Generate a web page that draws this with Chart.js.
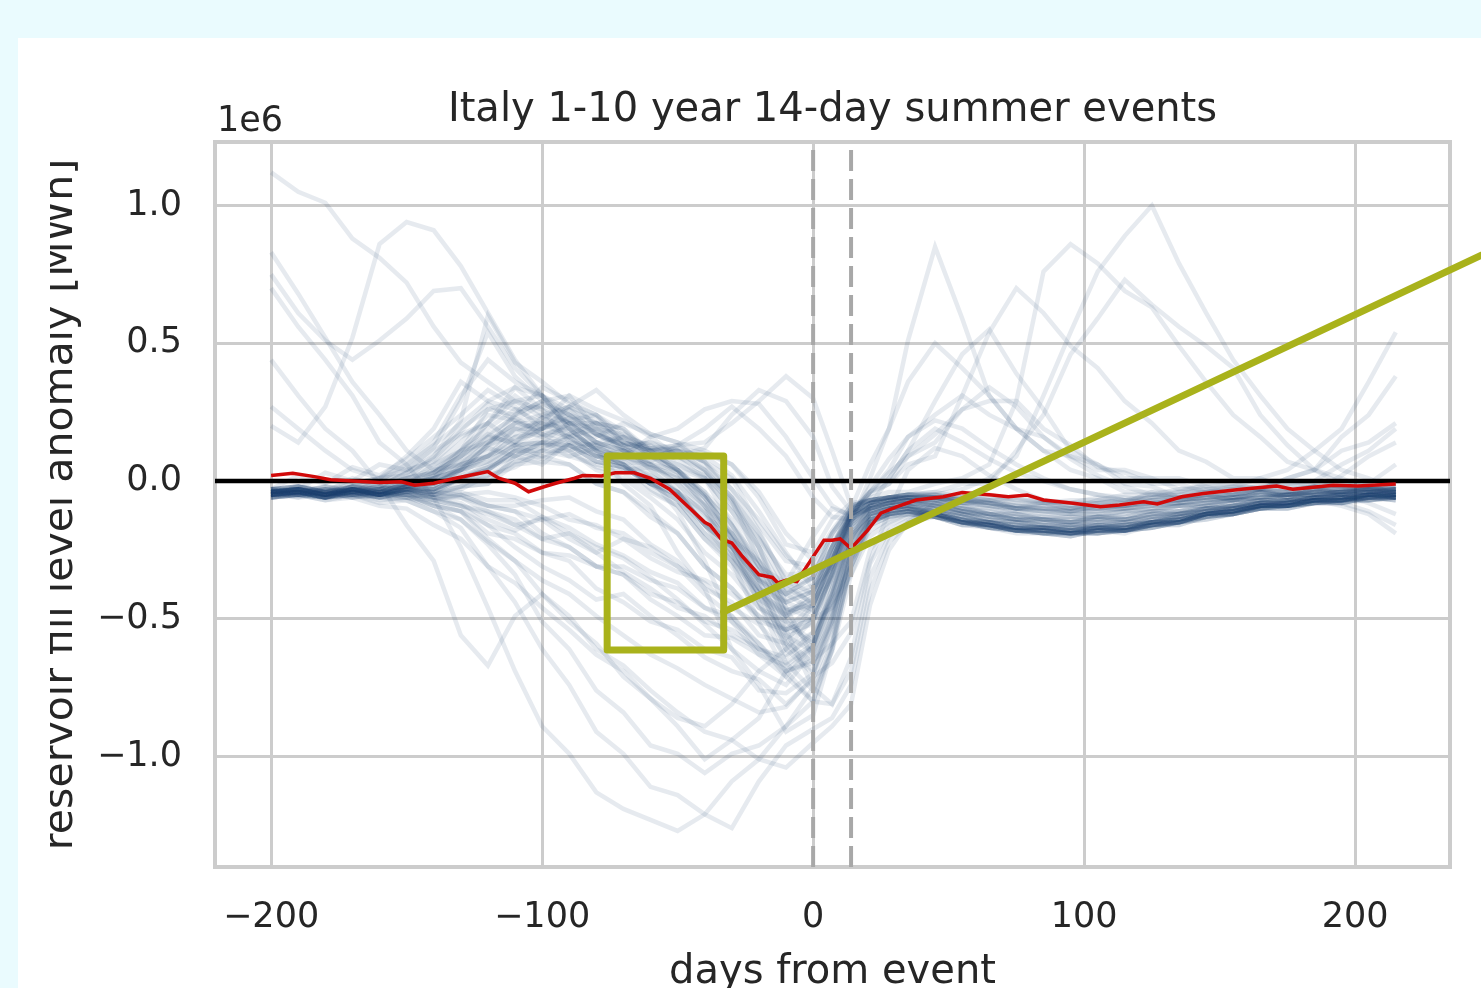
<!DOCTYPE html>
<html>
<head>
<meta charset="utf-8">
<title>Italy 1-10 year 14-day summer events</title>
<script src="https://cdn.jsdelivr.net/npm/chart.js@4.4.0/dist/chart.umd.min.js"></script>
<style>
  html, body { margin: 0; padding: 0; background: #eafbfe; }
  body { width: 1481px; height: 988px; overflow: hidden; position: relative; }
  #panel { position: absolute; left: 18px; top: 38px; width: 1463px; height: 950px; background: #ffffff; }
  canvas { display: block; }
</style>
</head>
<body>
<div id="panel"><canvas id="chart" width="1463" height="950"></canvas></div>
<script>
// texts
const titleText = "Italy 1-10 year 14-day summer events";
const xLabel = "days from event";
const yLabel = "reservoir fill level anomaly [MWh]";
const yOffsetText = "1e6";

// axis limits and ticks (y values in units of 1e6 MWh)
const xMin = -220.7, xMax = 235.0;
const yMin = -1.401, yMax = 1.2305;
const xTicks = [-200, -100, 0, 100, 200];
const yTicks = [-1.0, -0.5, 0.0, 0.5, 1.0];

// event window (dashed lines) and the highlighted box + connector
const eventWindow = [0, 14];
const boxDays = [-76, -33];
const boxValues = [-0.613, 0.091];
const connectorDays = [-33, 260];
const connectorValues = [-0.475, 0.882];

// days relative to the event for every event series
const days = [-200,-190,-180,-170,-160,-150,-140,-130,-120,-110,-100,-90,-80,-70,-60,-50,-40,-30,-20,-10,
  0,7,14,21,28,35,45,55,65,75,85,95,105,115,125,135,145,155,165,175,185,195,205,215];

// single events: 20 values before the event, then 24 from day 0 on
const e01 = [-0.03,-0.05,-0.02,-0.04,0.00,0.06,0.14,0.31,0.44,0.36,0.31,0.22,0.24,0.16,0.13,0.06,0.01,-0.16,-0.29,-0.46, -0.50,-0.33,-0.14,-0.09,-0.07,-0.06,-0.07,-0.06,-0.08,-0.10,-0.09,-0.11,-0.09,-0.09,-0.07,-0.06,-0.05,-0.05,-0.03,-0.04,-0.02,-0.03,-0.03,-0.02];
const e02 = [-0.05,-0.04,-0.06,-0.03,-0.02,0.03,0.09,0.22,0.60,0.43,0.36,0.28,0.24,0.14,0.11,0.04,-0.06,-0.21,-0.38,-0.61, -0.70,-0.53,-0.26,-0.13,-0.11,-0.10,-0.13,-0.15,-0.15,-0.17,-0.18,-0.19,-0.18,-0.18,-0.16,-0.15,-0.12,-0.11,-0.09,-0.09,-0.07,-0.07,-0.05,-0.06];
const e03 = [-0.04,-0.02,-0.04,-0.01,0.01,0.09,0.19,0.36,0.29,0.26,0.27,0.21,0.14,0.11,0.12,0.09,0.04,-0.06,-0.19,-0.36, -0.41,-0.29,-0.11,-0.08,-0.06,-0.06,-0.08,-0.09,-0.12,-0.12,-0.14,-0.14,-0.13,-0.13,-0.11,-0.11,-0.09,-0.08,-0.07,-0.07,-0.05,-0.04,-0.01,0.06];
const e04 = [-0.06,-0.04,-0.06,-0.03,-0.04,-0.01,0.06,0.11,0.26,0.29,0.23,0.17,0.21,0.14,0.11,0.04,0.01,-0.11,-0.24,-0.49, -0.61,-0.44,-0.21,-0.14,-0.13,-0.11,-0.13,-0.16,-0.16,-0.18,-0.19,-0.20,-0.18,-0.19,-0.16,-0.16,-0.13,-0.12,-0.10,-0.10,-0.08,-0.08,-0.06,-0.06];
const e05 = [-0.03,-0.02,-0.03,-0.01,0.01,0.04,0.11,0.17,0.21,0.14,0.19,0.26,0.21,0.19,0.11,0.11,0.07,0.01,-0.16,-0.29, -0.31,-0.19,-0.09,-0.07,-0.06,-0.05,-0.04,-0.06,-0.05,-0.07,-0.07,-0.08,-0.06,-0.07,-0.05,-0.05,-0.03,-0.03,-0.02,-0.01,0.00,0.06,0.11,0.19];
const e06 = [-0.05,-0.03,-0.05,-0.02,-0.01,0.04,0.07,0.16,0.21,0.29,0.31,0.26,0.17,0.13,0.09,0.11,0.04,-0.06,-0.24,-0.46, -0.64,-0.51,-0.21,-0.12,-0.10,-0.09,-0.11,-0.12,-0.15,-0.15,-0.17,-0.16,-0.17,-0.15,-0.15,-0.12,-0.11,-0.09,-0.09,-0.07,-0.07,-0.05,-0.05,-0.03];
const e07 = [-0.04,-0.03,-0.04,-0.02,-0.02,0.01,0.04,0.11,0.14,0.21,0.24,0.21,0.14,0.11,0.07,0.13,0.14,0.21,0.29,0.38, 0.30,0.11,-0.09,-0.07,-0.06,-0.05,-0.06,-0.05,-0.07,-0.06,-0.08,-0.07,-0.07,-0.05,-0.05,-0.03,-0.03,-0.02,-0.02,-0.01,-0.01,-0.02,-0.03,-0.02];
const e08 = [-0.06,-0.05,-0.06,-0.04,-0.04,-0.01,0.03,0.09,0.21,0.34,0.26,0.14,0.13,0.09,0.16,0.19,0.26,0.29,0.28,0.16, 0.01,-0.09,-0.13,-0.10,-0.08,-0.08,-0.09,-0.10,-0.12,-0.12,-0.14,-0.13,-0.13,-0.11,-0.11,-0.09,-0.09,-0.07,-0.07,-0.05,-0.05,-0.04,-0.04,-0.03];
const e09 = [-0.04,-0.03,-0.05,-0.02,-0.03,-0.01,0.01,0.04,0.13,0.17,0.23,0.27,0.23,0.14,0.11,0.04,-0.06,-0.19,-0.36,-0.54, -0.75,-0.59,-0.31,-0.15,-0.12,-0.11,-0.12,-0.14,-0.16,-0.17,-0.18,-0.19,-0.17,-0.18,-0.15,-0.15,-0.12,-0.12,-0.09,-0.09,-0.07,-0.08,-0.06,-0.07];
const e10 = [-0.05,-0.04,-0.06,-0.03,-0.05,-0.02,0.01,0.04,0.09,0.14,0.21,0.17,0.13,0.07,0.06,-0.01,-0.09,-0.26,-0.44,-0.61, -0.55,-0.41,-0.17,-0.10,-0.08,-0.07,-0.07,-0.10,-0.10,-0.12,-0.13,-0.13,-0.14,-0.12,-0.11,-0.09,-0.09,-0.07,-0.07,-0.05,-0.05,-0.04,-0.04,-0.03];
const e11 = [0.20,0.14,0.27,0.52,0.86,0.94,0.91,0.78,0.61,0.44,0.31,0.19,0.11,0.04,0.01,-0.11,-0.29,-0.51,-0.59,-0.71, -0.60,-0.41,-0.19,-0.12,-0.10,-0.09,-0.12,-0.14,-0.17,-0.17,-0.19,-0.18,-0.19,-0.17,-0.16,-0.14,-0.13,-0.10,-0.10,-0.08,-0.07,-0.06,-0.07,-0.05];
const e12 = [1.12,1.05,1.01,0.88,0.81,0.72,0.56,0.43,0.36,0.29,0.26,0.21,0.19,0.11,0.09,0.04,-0.04,-0.21,-0.29,-0.41, -0.35,-0.24,-0.12,-0.08,-0.06,-0.05,-0.05,-0.07,-0.06,-0.08,-0.08,-0.09,-0.08,-0.07,-0.06,-0.04,-0.04,-0.03,-0.03,-0.02,-0.01,-0.02,-0.03,-0.02];
const e13 = [0.83,0.68,0.52,0.36,0.24,0.11,0.04,0.06,0.09,0.16,0.19,0.23,0.17,0.13,0.04,-0.04,-0.16,-0.29,-0.51,-0.69, -0.80,-0.61,-0.29,-0.15,-0.12,-0.10,-0.12,-0.15,-0.16,-0.18,-0.17,-0.19,-0.17,-0.18,-0.15,-0.15,-0.12,-0.11,-0.09,-0.09,-0.07,-0.09,-0.12,-0.19];
const e14 = [0.75,0.61,0.51,0.44,0.51,0.59,0.69,0.70,0.56,0.41,0.31,0.19,0.11,-0.01,-0.09,-0.26,-0.39,-0.61,-0.74,-0.91, -0.85,-0.61,-0.29,-0.18,-0.14,-0.12,-0.13,-0.15,-0.17,-0.18,-0.19,-0.20,-0.18,-0.18,-0.16,-0.15,-0.12,-0.11,-0.09,-0.09,-0.07,-0.07,-0.05,-0.06];
const e15 = [0.44,0.31,0.19,0.11,-0.01,-0.16,-0.29,-0.56,-0.67,-0.49,-0.41,-0.51,-0.59,-0.71,-0.79,-0.86,-0.89,-0.81,-0.69,-0.61, -0.50,-0.46,-0.34,-0.20,-0.15,-0.12,-0.12,-0.15,-0.16,-0.18,-0.18,-0.19,-0.18,-0.17,-0.15,-0.15,-0.12,-0.11,-0.09,-0.09,-0.07,-0.07,-0.05,-0.06];
const e16 = [0.70,0.56,0.44,0.31,0.14,0.06,-0.06,-0.24,-0.46,-0.69,-0.89,-0.99,-1.13,-1.19,-1.23,-1.27,-1.21,-1.09,-1.01,-0.89, -0.80,-0.81,-0.69,-0.35,-0.20,-0.15,-0.13,-0.16,-0.17,-0.19,-0.19,-0.20,-0.18,-0.18,-0.16,-0.15,-0.12,-0.12,-0.09,-0.09,-0.07,-0.07,-0.06,-0.06];
const e17 = [-0.04,-0.03,-0.05,-0.04,-0.06,-0.07,-0.11,-0.17,-0.31,-0.44,-0.61,-0.74,-0.91,-0.99,-1.11,-1.14,-1.21,-1.26,-1.09,-0.96, -0.90,-0.86,-0.74,-0.40,-0.22,-0.16,-0.12,-0.15,-0.16,-0.18,-0.18,-0.19,-0.17,-0.18,-0.16,-0.15,-0.12,-0.11,-0.09,-0.09,-0.07,-0.07,-0.05,-0.06];
const e18 = [-0.05,-0.04,-0.06,-0.05,-0.08,-0.07,-0.11,-0.14,-0.23,-0.34,-0.51,-0.61,-0.76,-0.84,-0.96,-0.99,-1.06,-0.99,-0.96,-0.89, -0.75,-0.81,-0.64,-0.30,-0.18,-0.14,-0.11,-0.14,-0.15,-0.17,-0.17,-0.18,-0.16,-0.17,-0.14,-0.14,-0.11,-0.11,-0.08,-0.08,-0.06,-0.07,-0.05,-0.05];
const e19 = [-0.03,-0.02,-0.04,-0.03,-0.05,-0.05,-0.09,-0.11,-0.21,-0.29,-0.41,-0.49,-0.61,-0.67,-0.76,-0.84,-0.91,-0.94,-1.01,-1.04, -0.95,-0.89,-0.81,-0.45,-0.25,-0.15,-0.08,-0.11,-0.12,-0.14,-0.14,-0.15,-0.13,-0.14,-0.12,-0.12,-0.10,-0.10,-0.08,-0.08,-0.06,-0.06,-0.05,-0.05];
const e20 = [-0.06,-0.05,-0.07,-0.06,-0.09,-0.10,-0.16,-0.21,-0.31,-0.37,-0.46,-0.54,-0.63,-0.69,-0.79,-0.89,-1.01,-0.94,-0.86,-0.69, -0.65,-0.59,-0.51,-0.25,-0.16,-0.13,-0.12,-0.15,-0.16,-0.18,-0.18,-0.19,-0.18,-0.18,-0.16,-0.15,-0.13,-0.12,-0.10,-0.10,-0.08,-0.08,-0.06,-0.07];
const e21 = [-0.04,-0.03,-0.05,-0.03,-0.05,-0.03,-0.06,-0.06,-0.11,-0.14,-0.21,-0.24,-0.31,-0.34,-0.41,-0.44,-0.51,-0.54,-0.61,-0.64, -0.55,-0.44,-0.31,-0.15,-0.12,-0.11,-0.12,-0.15,-0.15,-0.17,-0.17,-0.18,-0.17,-0.17,-0.15,-0.14,-0.12,-0.11,-0.09,-0.09,-0.07,-0.07,-0.05,-0.06];
const e22 = [-0.03,-0.02,-0.04,-0.03,-0.05,-0.03,-0.05,-0.04,-0.07,-0.07,-0.13,-0.17,-0.23,-0.27,-0.33,-0.37,-0.46,-0.49,-0.59,-0.69, -0.60,-0.34,-0.15,-0.10,-0.08,-0.07,-0.07,-0.10,-0.11,-0.13,-0.13,-0.14,-0.13,-0.13,-0.11,-0.11,-0.09,-0.09,-0.07,-0.07,-0.05,-0.06,-0.04,-0.05];
const e23 = [-0.05,-0.04,-0.06,-0.04,-0.06,-0.04,-0.07,-0.05,-0.09,-0.09,-0.07,-0.06,-0.11,-0.14,-0.23,-0.29,-0.39,-0.44,-0.56,-0.59, -0.45,-0.29,-0.12,-0.10,-0.09,-0.08,-0.08,-0.11,-0.12,-0.14,-0.14,-0.15,-0.13,-0.14,-0.12,-0.12,-0.10,-0.10,-0.08,-0.08,-0.06,-0.06,-0.05,-0.05];
const e24 = [-0.04,-0.03,-0.05,-0.03,-0.05,-0.03,-0.05,-0.02,-0.01,0.06,0.07,0.06,-0.01,-0.04,-0.11,-0.19,-0.31,-0.39,-0.49,-0.54, -0.50,-0.29,-0.13,-0.10,-0.08,-0.07,-0.06,-0.08,-0.08,-0.10,-0.10,-0.11,-0.09,-0.09,-0.07,-0.07,-0.05,-0.05,-0.03,-0.04,-0.02,-0.03,-0.02,-0.04];
const e25 = [-0.05,-0.04,-0.05,-0.03,-0.05,-0.04,-0.07,-0.09,-0.16,-0.19,-0.26,-0.29,-0.39,-0.44,-0.51,-0.54,-0.61,-0.64,-0.76,-0.77, -0.70,-0.49,-0.28,-0.15,-0.12,-0.11,-0.13,-0.16,-0.16,-0.18,-0.18,-0.19,-0.18,-0.18,-0.16,-0.16,-0.13,-0.12,-0.10,-0.10,-0.08,-0.08,-0.06,-0.07];
const e26 = [-0.03,-0.02,-0.04,-0.02,-0.04,-0.02,-0.03,0.01,0.02,0.07,0.09,0.13,0.09,0.06,-0.01,-0.04,-0.16,-0.24,-0.36,-0.41, -0.35,-0.19,-0.10,-0.07,-0.06,-0.05,-0.05,-0.07,-0.07,-0.09,-0.08,-0.10,-0.08,-0.08,-0.06,-0.06,-0.04,-0.05,-0.03,-0.04,-0.02,-0.03,-0.02,-0.03];
const e27 = [-0.06,-0.05,-0.06,-0.04,-0.06,-0.04,-0.06,-0.05,-0.09,-0.11,-0.19,-0.24,-0.31,-0.31,-0.36,-0.39,-0.46,-0.51,-0.63,-0.71, -0.80,-0.59,-0.25,-0.14,-0.11,-0.10,-0.11,-0.14,-0.15,-0.17,-0.17,-0.18,-0.16,-0.17,-0.15,-0.14,-0.12,-0.11,-0.09,-0.09,-0.07,-0.08,-0.11,-0.16];
const e28 = [-0.04,-0.03,-0.05,-0.03,-0.05,-0.03,-0.04,0.00,0.01,0.07,0.11,0.16,0.11,0.09,0.02,-0.04,-0.13,-0.19,-0.31,-0.37, -0.20,-0.10,-0.12,-0.09,-0.07,-0.06,-0.06,-0.08,-0.08,-0.10,-0.10,-0.11,-0.10,-0.10,-0.08,-0.08,-0.06,-0.06,-0.04,-0.05,-0.03,-0.04,-0.03,-0.04];
const e29 = [-0.05,-0.04,-0.06,-0.04,-0.05,-0.02,-0.03,0.03,0.09,0.19,0.19,0.16,0.09,0.06,-0.01,-0.07,-0.16,-0.24,-0.39,-0.49, -0.42,-0.24,-0.12,-0.10,-0.09,-0.08,-0.09,-0.12,-0.12,-0.14,-0.14,-0.16,-0.14,-0.15,-0.13,-0.13,-0.10,-0.10,-0.08,-0.08,-0.06,-0.06,-0.05,-0.05];
const e30 = [-0.04,-0.03,-0.05,-0.04,-0.06,-0.05,-0.09,-0.11,-0.19,-0.21,-0.26,-0.27,-0.31,-0.34,-0.43,-0.49,-0.56,-0.57,-0.63,-0.67, -0.60,-0.39,-0.20,-0.12,-0.10,-0.09,-0.12,-0.15,-0.16,-0.18,-0.18,-0.19,-0.18,-0.18,-0.16,-0.15,-0.12,-0.12,-0.09,-0.09,-0.07,-0.07,-0.05,-0.06];
const e31 = [-0.04,-0.03,-0.05,-0.03,-0.05,-0.02,-0.01,0.06,0.09,0.13,0.09,0.06,-0.01,-0.04,-0.13,-0.19,-0.31,-0.39,-0.51,-0.54, -0.45,-0.29,-0.15,0.01,0.19,0.51,0.85,0.59,0.31,0.19,0.16,0.09,0.06,0.01,0.01,-0.03,-0.02,-0.05,-0.03,-0.06,-0.04,-0.05,-0.03,-0.06];
const e32 = [-0.05,-0.04,-0.06,-0.03,-0.05,-0.03,-0.04,0.01,0.04,0.11,0.14,0.11,0.04,0.01,-0.06,-0.14,-0.26,-0.34,-0.46,-0.51, -0.50,-0.34,-0.12,-0.08,-0.06,-0.05,-0.05,-0.03,0.01,0.09,0.31,0.54,0.76,0.89,1.00,0.79,0.61,0.44,0.31,0.19,0.11,0.04,0.01,-0.03];
const e33 = [-0.03,-0.02,-0.04,-0.02,-0.03,0.01,0.03,0.11,0.17,0.23,0.17,0.13,0.07,0.05,-0.01,-0.07,-0.19,-0.29,-0.43,-0.49, -0.40,-0.24,-0.10,-0.06,-0.04,-0.04,-0.01,0.01,0.06,0.29,0.76,0.86,0.79,0.69,0.63,0.49,0.36,0.24,0.16,0.07,0.04,-0.01,-0.01,-0.05];
const e34 = [-0.05,-0.04,-0.05,-0.03,-0.04,-0.01,0.01,0.09,0.14,0.21,0.21,0.19,0.11,0.06,-0.03,-0.09,-0.21,-0.31,-0.46,-0.54, -0.50,-0.34,-0.15,-0.04,-0.01,0.06,0.09,0.31,0.54,0.70,0.61,0.49,0.41,0.29,0.21,0.11,0.07,0.01,0.01,-0.03,-0.02,-0.05,-0.04,-0.06];
const e35 = [-0.04,-0.03,-0.05,-0.02,-0.04,-0.01,-0.01,0.04,0.07,0.13,0.14,0.13,0.07,0.05,-0.01,-0.05,-0.16,-0.24,-0.36,-0.44, -0.40,-0.27,-0.12,-0.08,-0.06,-0.05,-0.04,-0.01,-0.01,0.11,0.24,0.46,0.59,0.73,0.64,0.56,0.49,0.41,0.24,0.13,0.04,0.01,-0.03,-0.04];
const e36 = [-0.04,-0.03,-0.05,-0.03,-0.05,-0.03,-0.05,-0.02,-0.01,0.09,0.14,0.21,0.21,0.19,0.09,0.03,-0.09,-0.19,-0.33,-0.39, -0.35,-0.19,-0.10,-0.07,-0.06,-0.05,-0.06,-0.08,-0.07,-0.10,-0.08,-0.10,-0.07,-0.08,-0.04,-0.04,-0.01,-0.02,0.01,0.04,0.11,0.19,0.36,0.54];
const e37 = [-0.05,-0.04,-0.06,-0.04,-0.05,-0.03,-0.04,0.01,0.04,0.11,0.11,0.11,0.05,0.03,-0.04,-0.09,-0.21,-0.29,-0.41,-0.47, -0.45,-0.29,-0.12,-0.04,0.04,0.16,0.24,0.31,0.24,0.19,0.11,0.09,0.04,0.04,0.01,0.01,-0.02,-0.01,-0.03,0.01,0.04,0.16,0.24,0.38];
const e38 = [-0.04,-0.03,-0.05,-0.03,-0.04,-0.01,-0.01,0.05,0.09,0.16,0.17,0.16,0.09,0.06,-0.01,-0.07,-0.19,-0.27,-0.39,-0.44, -0.40,-0.24,-0.10,0.06,0.19,0.36,0.50,0.41,0.31,0.19,0.11,0.04,0.01,-0.04,-0.04,-0.07,-0.05,-0.07,-0.04,-0.06,-0.03,-0.05,-0.02,-0.04];
const e39 = [-0.05,-0.04,-0.06,-0.03,-0.05,-0.02,-0.02,0.04,0.07,0.13,0.14,0.15,0.09,0.07,0.01,-0.04,-0.16,-0.27,-0.41,-0.49, -0.45,-0.29,-0.12,-0.04,0.01,0.11,0.29,0.46,0.55,0.39,0.26,0.11,0.06,-0.01,-0.02,-0.06,-0.05,-0.07,-0.04,-0.06,-0.03,-0.05,-0.03,-0.05];
const e40 = [-0.04,-0.03,-0.05,-0.03,-0.05,-0.02,-0.03,0.01,0.04,0.11,0.13,0.13,0.07,0.05,-0.01,-0.05,-0.15,-0.23,-0.35,-0.41, -0.38,-0.24,-0.11,-0.05,-0.01,0.09,0.17,0.26,0.29,0.29,0.19,0.13,0.05,0.03,-0.01,-0.01,-0.04,-0.02,-0.03,0.01,0.04,0.11,0.14,0.21];
const e41 = [-0.03,0.02,-0.01,0.05,0.02,0.08,0.16,0.24,0.33,0.27,0.19,0.22,0.14,0.16,0.09,0.11,0.04,-0.09,-0.21,-0.34, -0.33,-0.22,-0.11,-0.07,-0.06,-0.06,-0.06,-0.08,-0.09,-0.11,-0.11,-0.12,-0.11,-0.10,-0.09,-0.08,-0.07,-0.06,-0.05,-0.05,-0.04,-0.04,-0.03,-0.04];
const e42 = [-0.05,-0.03,0.03,0.00,0.06,0.04,0.12,0.29,0.54,0.38,0.29,0.31,0.19,0.17,0.12,0.13,0.07,-0.03,-0.14,-0.27, -0.36,-0.28,-0.14,-0.09,-0.08,-0.07,-0.09,-0.11,-0.13,-0.14,-0.16,-0.16,-0.16,-0.15,-0.14,-0.12,-0.11,-0.09,-0.08,-0.07,-0.06,-0.05,-0.05,-0.04];
const e43 = [-0.04,-0.04,-0.02,-0.03,0.01,0.02,0.06,0.14,0.24,0.22,0.28,0.24,0.19,0.12,0.14,0.11,0.09,0.02,-0.11,-0.26, -0.39,-0.31,-0.16,-0.10,-0.08,-0.07,-0.10,-0.12,-0.14,-0.15,-0.16,-0.17,-0.16,-0.16,-0.14,-0.13,-0.11,-0.10,-0.08,-0.08,-0.06,-0.06,-0.05,-0.05];
const e44 = [-0.06,-0.05,-0.04,-0.05,-0.03,-0.02,0.02,0.07,0.16,0.24,0.34,0.29,0.24,0.18,0.11,0.12,0.10,0.06,-0.04,-0.19, -0.29,-0.18,-0.09,-0.07,-0.06,-0.06,-0.06,-0.07,-0.08,-0.09,-0.10,-0.10,-0.10,-0.09,-0.08,-0.07,-0.06,-0.05,-0.04,-0.04,-0.03,-0.03,-0.03,-0.03];
const e45 = [-0.04,-0.05,-0.03,-0.04,-0.02,-0.04,0.01,0.04,0.11,0.19,0.21,0.31,0.26,0.22,0.16,0.09,0.03,-0.07,-0.29,-0.51, -0.58,-0.43,-0.22,-0.13,-0.11,-0.10,-0.12,-0.14,-0.16,-0.17,-0.18,-0.18,-0.18,-0.17,-0.16,-0.14,-0.12,-0.11,-0.09,-0.08,-0.07,-0.07,-0.06,-0.05];
const e46 = [-0.05,-0.03,-0.05,-0.02,-0.03,0.01,0.03,0.09,0.16,0.14,0.23,0.19,0.16,0.21,0.17,0.14,0.11,0.06,-0.06,-0.23, -0.26,-0.14,-0.08,-0.07,-0.06,-0.06,-0.05,-0.06,-0.07,-0.07,-0.08,-0.08,-0.08,-0.07,-0.06,-0.05,-0.04,-0.04,-0.03,-0.03,-0.02,-0.02,-0.02,-0.01];
const e47 = [-0.03,-0.05,-0.04,-0.06,-0.04,-0.06,-0.05,-0.03,0.02,0.05,0.11,0.09,0.06,0.04,0.05,0.01,-0.06,-0.19,-0.36,-0.58, -0.66,-0.51,-0.24,-0.14,-0.12,-0.11,-0.13,-0.15,-0.16,-0.18,-0.18,-0.19,-0.19,-0.18,-0.17,-0.15,-0.13,-0.12,-0.10,-0.09,-0.08,-0.07,-0.06,-0.06];
const e48 = [-0.04,-0.04,-0.05,-0.04,-0.05,-0.05,-0.06,-0.08,-0.14,-0.18,-0.13,-0.19,-0.26,-0.21,-0.28,-0.33,-0.36,-0.41,-0.49,-0.57, -0.51,-0.36,-0.19,-0.12,-0.10,-0.09,-0.10,-0.12,-0.14,-0.15,-0.16,-0.16,-0.15,-0.15,-0.13,-0.12,-0.11,-0.09,-0.08,-0.07,-0.06,-0.06,-0.05,-0.05];
const e49 = [-0.05,-0.05,-0.06,-0.05,-0.06,-0.06,-0.08,-0.11,-0.16,-0.24,-0.31,-0.36,-0.43,-0.41,-0.49,-0.56,-0.64,-0.69,-0.72,-0.81, -0.72,-0.55,-0.31,-0.16,-0.13,-0.12,-0.13,-0.15,-0.17,-0.18,-0.19,-0.19,-0.19,-0.18,-0.17,-0.15,-0.13,-0.12,-0.10,-0.09,-0.08,-0.07,-0.07,-0.06];
const e50 = [-0.04,-0.04,-0.04,-0.05,-0.04,-0.04,-0.04,-0.05,-0.04,-0.06,-0.09,-0.14,-0.16,-0.21,-0.24,-0.31,-0.37,-0.46,-0.52,-0.63, -0.57,-0.39,-0.18,-0.11,-0.09,-0.08,-0.09,-0.11,-0.13,-0.14,-0.15,-0.15,-0.15,-0.14,-0.13,-0.11,-0.10,-0.09,-0.07,-0.07,-0.06,-0.05,-0.05,-0.04];
const e51 = [-0.03,-0.04,-0.03,-0.04,-0.03,-0.02,0.01,0.07,0.12,0.09,0.14,0.09,0.12,0.08,0.11,0.08,0.01,-0.11,-0.27,-0.44, -0.48,-0.31,-0.12,-0.08,-0.07,-0.06,-0.07,-0.09,-0.10,-0.11,-0.12,-0.12,-0.12,-0.11,-0.10,-0.09,-0.08,-0.07,-0.06,-0.05,-0.05,-0.04,-0.04,-0.03];
const e52 = [-0.05,-0.04,-0.06,-0.04,-0.05,-0.03,-0.01,0.04,0.13,0.21,0.19,0.24,0.17,0.13,0.14,0.09,0.12,0.24,0.33,0.29, 0.16,-0.02,-0.11,-0.08,-0.07,-0.06,-0.06,-0.07,-0.08,-0.09,-0.10,-0.10,-0.10,-0.09,-0.08,-0.07,-0.06,-0.05,-0.04,-0.04,-0.03,-0.03,-0.04,-0.04];
const e53 = [-0.04,-0.03,-0.04,-0.03,-0.04,-0.03,-0.03,0.01,0.06,0.12,0.16,0.11,0.14,0.09,0.06,0.04,-0.04,-0.14,-0.31,-0.48, -0.44,-0.28,-0.14,-0.09,-0.07,-0.07,-0.08,-0.10,-0.12,-0.13,-0.14,-0.15,-0.14,-0.14,-0.12,-0.11,-0.10,-0.09,-0.07,-0.07,-0.06,-0.05,-0.08,-0.12];
const e54 = [-0.05,-0.06,-0.05,-0.06,-0.05,-0.06,-0.07,-0.09,-0.12,-0.16,-0.21,-0.19,-0.24,-0.28,-0.35,-0.43,-0.52,-0.61,-0.69,-0.74, -0.62,-0.46,-0.27,-0.14,-0.12,-0.11,-0.12,-0.14,-0.16,-0.17,-0.17,-0.18,-0.17,-0.17,-0.15,-0.14,-0.12,-0.11,-0.09,-0.08,-0.07,-0.07,-0.06,-0.05];
const e55 = [-0.04,-0.04,-0.03,-0.04,-0.02,0.01,0.09,0.19,0.26,0.24,0.29,0.24,0.21,0.14,0.12,0.11,0.07,-0.06,-0.21,-0.39, -0.44,-0.31,-0.15,-0.09,-0.08,-0.07,-0.09,-0.11,-0.13,-0.14,-0.15,-0.15,-0.15,-0.14,-0.13,-0.12,-0.10,-0.09,-0.08,-0.07,-0.06,-0.05,-0.05,-0.04];
const e56 = [-0.03,-0.03,-0.04,-0.03,-0.03,-0.02,0.00,0.02,0.05,0.09,0.12,0.17,0.12,0.16,0.11,0.13,0.19,0.27,0.19,0.09, -0.06,-0.13,-0.14,-0.10,-0.08,-0.07,-0.07,-0.08,-0.09,-0.10,-0.11,-0.11,-0.11,-0.10,-0.09,-0.08,-0.07,-0.06,-0.05,-0.05,-0.04,-0.04,-0.03,-0.03];
const e57 = [-0.05,-0.05,-0.05,-0.05,-0.04,-0.05,-0.05,-0.06,-0.09,-0.11,-0.14,-0.12,-0.17,-0.19,-0.26,-0.31,-0.41,-0.49,-0.61,-0.69, -0.66,-0.49,-0.23,-0.13,-0.11,-0.10,-0.11,-0.13,-0.15,-0.16,-0.17,-0.17,-0.17,-0.16,-0.15,-0.14,-0.12,-0.11,-0.09,-0.09,-0.08,-0.07,-0.06,-0.06];
const e58 = [-0.04,-0.04,-0.05,-0.04,-0.04,-0.03,0.01,0.11,0.21,0.31,0.24,0.27,0.21,0.16,0.09,0.04,-0.05,-0.16,-0.33,-0.52, -0.59,-0.41,-0.20,-0.12,-0.10,-0.09,-0.10,-0.12,-0.14,-0.15,-0.16,-0.17,-0.16,-0.16,-0.15,-0.13,-0.12,-0.10,-0.09,-0.08,-0.07,-0.06,-0.06,-0.05];
const e59 = [-0.06,-0.05,-0.06,-0.05,-0.05,-0.04,-0.04,-0.02,0.04,0.09,0.06,0.14,0.11,0.06,0.02,-0.04,-0.11,-0.23,-0.44,-0.66, -0.76,-0.62,-0.34,-0.16,-0.13,-0.12,-0.13,-0.15,-0.17,-0.18,-0.19,-0.19,-0.19,-0.18,-0.17,-0.15,-0.14,-0.12,-0.10,-0.09,-0.08,-0.07,-0.07,-0.06];
const e60 = [0.27,0.19,0.11,0.04,0.01,0.06,0.13,0.21,0.29,0.34,0.31,0.24,0.17,0.12,0.06,-0.01,-0.11,-0.26,-0.41,-0.56, -0.62,-0.47,-0.23,-0.12,-0.10,-0.09,-0.11,-0.13,-0.15,-0.16,-0.17,-0.17,-0.17,-0.16,-0.15,-0.13,-0.12,-0.10,-0.09,-0.08,-0.07,-0.06,-0.06,-0.05];
const e61 = [-0.05,-0.02,-0.04,0.01,-0.02,0.03,0.08,0.18,0.28,0.22,0.17,0.19,0.12,0.09,0.05,0.02,-0.08,-0.22,-0.39,-0.55, -0.52,-0.33,-0.13,-0.02,0.08,0.16,0.22,0.19,0.12,0.06,0.01,-0.03,-0.05,-0.07,-0.08,-0.08,-0.07,-0.07,-0.06,-0.05,-0.04,-0.04,-0.03,-0.03];
const e62 = [-0.04,-0.06,-0.03,-0.05,-0.04,-0.03,0.02,0.06,0.14,0.19,0.16,0.21,0.14,0.11,0.06,0.01,-0.09,-0.21,-0.35,-0.47, -0.43,-0.27,-0.11,-0.04,0.03,0.09,0.14,0.26,0.34,0.27,0.16,0.08,0.02,-0.02,-0.05,-0.06,-0.07,-0.06,-0.06,-0.05,-0.05,-0.04,-0.04,-0.04];
const e63 = [-0.06,-0.04,-0.06,-0.05,-0.07,-0.06,-0.09,-0.14,-0.22,-0.29,-0.36,-0.41,-0.49,-0.56,-0.63,-0.68,-0.74,-0.79,-0.84,-0.82, -0.71,-0.66,-0.55,-0.29,-0.11,0.04,0.12,0.09,0.02,-0.03,-0.07,-0.09,-0.10,-0.10,-0.09,-0.09,-0.08,-0.07,-0.06,-0.06,-0.05,-0.05,-0.04,-0.04];
const e64 = [-0.04,-0.03,-0.05,-0.04,-0.03,-0.01,0.04,0.12,0.19,0.26,0.21,0.16,0.19,0.13,0.09,0.06,0.02,-0.08,-0.24,-0.41, -0.47,-0.35,-0.16,-0.11,-0.10,-0.10,-0.12,-0.14,-0.15,-0.17,-0.17,-0.18,-0.17,-0.17,-0.15,-0.14,-0.12,-0.11,-0.10,-0.09,-0.08,-0.07,-0.07,-0.06];
const e65 = [-0.05,-0.05,-0.04,-0.06,-0.05,-0.04,-0.03,0.01,0.05,0.11,0.08,0.13,0.09,0.11,0.07,0.03,-0.05,-0.16,-0.31,-0.43, -0.39,-0.25,-0.12,-0.08,-0.07,-0.06,-0.06,-0.07,-0.09,-0.10,-0.11,-0.12,-0.12,-0.11,-0.10,-0.09,-0.08,-0.07,-0.06,-0.05,-0.04,0.02,0.09,0.14];
const e66 = [-0.03,-0.04,-0.02,-0.04,-0.03,-0.02,0.03,0.09,0.17,0.13,0.19,0.27,0.33,0.24,0.17,0.14,0.06,-0.03,-0.18,-0.37, -0.45,-0.34,-0.17,-0.11,-0.09,-0.09,-0.11,-0.13,-0.15,-0.16,-0.17,-0.18,-0.17,-0.16,-0.15,-0.13,-0.11,-0.10,-0.08,-0.07,-0.06,-0.06,-0.05,-0.04];
const e67 = [-0.05,-0.04,-0.05,-0.04,-0.04,-0.05,-0.06,-0.09,-0.11,-0.16,-0.14,-0.21,-0.26,-0.33,-0.39,-0.46,-0.49,-0.56,-0.61,-0.66, -0.59,-0.42,-0.21,-0.09,0.01,0.11,0.19,0.14,0.08,0.03,0.00,-0.03,-0.05,-0.06,-0.07,-0.07,-0.06,-0.06,-0.05,-0.05,-0.04,-0.04,-0.04,-0.03];
const e68 = [-0.06,-0.05,-0.07,-0.05,-0.06,-0.04,-0.02,0.05,0.13,0.24,0.29,0.21,0.17,0.11,0.04,-0.03,-0.12,-0.24,-0.41,-0.59, -0.69,-0.52,-0.26,-0.14,-0.12,-0.11,-0.13,-0.15,-0.17,-0.18,-0.19,-0.19,-0.19,-0.18,-0.17,-0.15,-0.14,-0.12,-0.10,-0.09,-0.08,-0.08,-0.07,-0.06];

const events = [e01,e02,e03,e04,e05,e06,e07,e08,e09,e10,e11,e12,e13,e14,e15,e16,e17,e18,e19,e20,
  e21,e22,e23,e24,e25,e26,e27,e28,e29,e30,e31,e32,e33,e34,e35,e36,e37,e38,e39,e40,
  e41,e42,e43,e44,e45,e46,e47,e48,e49,e50,e51,e52,e53,e54,e55,e56,e57,e58,e59,e60,
  e61,e62,e63,e64,e65,e66,e67,e68];

// mean over all events (red)
const meanDays = [-200,-192,-184,-178,-170,-160,-152,-147,-140,-132,-127,-120,-116,-110,-105,-99,-95,-88,-85,-78,-73,-66,-60,-53,-46,-40,-38,-34,-30,-26,-20,-15,-13,-10,-6,-1,
  4,7,10,14,20,25,31,38,48,55,66,72,79,85,96,106,113,122,127,136,144,158,171,177,192,201,215];
const meanValues = [0.020,0.028,0.016,0.005,0.000,-0.005,-0.003,-0.015,-0.008,0.010,0.020,0.034,0.010,-0.008,-0.039,-0.020,-0.008,0.010,0.020,0.018,0.030,0.030,0.010,-0.030,-0.094,-0.150,-0.160,-0.210,-0.225,-0.275,-0.340,-0.350,-0.370,-0.360,-0.365,-0.290,
  -0.215,-0.215,-0.210,-0.245,-0.180,-0.117,-0.093,-0.069,-0.057,-0.042,-0.051,-0.057,-0.051,-0.069,-0.081,-0.093,-0.087,-0.075,-0.083,-0.057,-0.045,-0.030,-0.018,-0.030,-0.015,-0.018,-0.011];

const textColor = "#262626";
const fontFamily = '"DejaVu Sans", "Liberation Sans", sans-serif';

events.forEach((ev, i) => {
  if (ev.length !== days.length) console.error("event " + (i + 1) + " has " + ev.length + " values");
});

function minusSign(s) {
  return String(s).replace("-", "\u2212");
}

const datasets = [];

// highlight box and connector line
datasets.push({
  data: [
    { x: boxDays[0], y: boxValues[1] }, { x: boxDays[1], y: boxValues[1] },
    { x: boxDays[1], y: boxValues[0] }, { x: boxDays[0], y: boxValues[0] },
    { x: boxDays[0], y: boxValues[1] }
  ],
  borderColor: "#a9b21b", borderWidth: 7, borderJoinStyle: "round", borderCapStyle: "round",
  pointRadius: 0, tension: 0, order: 0, clip: false
});
datasets.push({
  data: connectorDays.map((d, i) => ({ x: d, y: connectorValues[i] })),
  borderColor: "#a9b21b", borderWidth: 7, borderCapStyle: "round",
  pointRadius: 0, tension: 0, order: 0, clip: false
});

// event window
eventWindow.forEach(d => {
  datasets.push({
    data: [{ x: d, y: yMin }, { x: d, y: yMax }],
    borderColor: "#a8a8a8", borderWidth: 4, borderDash: [21, 8],
    pointRadius: 0, order: 1
  });
});

// mean
datasets.push({
  data: meanDays.map((d, i) => ({ x: d, y: meanValues[i] })),
  borderColor: "#d10a0a", borderWidth: 3.5, pointRadius: 0, tension: 0, order: 2
});

// zero line
datasets.push({
  data: [{ x: xMin, y: 0 }, { x: xMax, y: 0 }],
  borderColor: "#000000", borderWidth: 4.5, pointRadius: 0, order: 3
});

// single events
events.forEach(ev => {
  datasets.push({
    data: days.map((d, i) => ({ x: d, y: ev[i] })),
    borderColor: "rgba(30, 65, 110, 0.11)", borderWidth: 4.5,
    pointRadius: 0, tension: 0, order: 4
  });
});

// axes frame (all four spines)
const framePlugin = {
  id: "frame",
  beforeDatasetsDraw(chart) {
    const a = chart.chartArea, ctx = chart.ctx;
    ctx.save();
    ctx.strokeStyle = "#cccccc";
    ctx.lineWidth = 4;
    ctx.strokeRect(a.left, a.top, a.right - a.left, a.bottom - a.top);
    ctx.restore();
  }
};

// title, offset text and axis labels
const textPlugin = {
  id: "texts",
  afterDraw(chart) {
    const a = chart.chartArea, ctx = chart.ctx;
    const cx = (a.left + a.right) / 2;
    ctx.save();
    ctx.fillStyle = textColor;
    ctx.textBaseline = "alphabetic";

    ctx.font = "40px " + fontFamily;
    ctx.textAlign = "center";
    ctx.fillText(titleText, cx, 83);
    ctx.fillText(xLabel, cx, 945);

    ctx.font = "35px " + fontFamily;
    ctx.textAlign = "left";
    ctx.fillText(yOffsetText, a.left + 2, 93);

    // the y label is cut off on the left, like in the source figure
    ctx.beginPath();
    ctx.rect(32, 0, a.left - 32, chart.height);
    ctx.clip();
    ctx.translate(54, (a.top + a.bottom) / 2);
    ctx.rotate(-Math.PI / 2);
    ctx.font = "41px " + fontFamily;
    ctx.textAlign = "center";
    ctx.fillText(yLabel, 0, 0);
    ctx.restore();
  }
};

new Chart(document.getElementById("chart"), {
  type: "line",
  data: { datasets },
  options: {
    responsive: false,
    animation: false,
    events: [],
    layout: { padding: { top: 104, right: 31, left: 0, bottom: 0 } },
    plugins: { legend: { display: false }, tooltip: { enabled: false }, title: { display: false } },
    scales: {
      x: {
        type: "linear", min: xMin, max: xMax,
        afterBuildTicks: s => { s.ticks = xTicks.map(v => ({ value: v })); },
        afterFit: s => { s.height = 121; },
        grid: { color: "#cccccc", lineWidth: 3, drawTicks: false },
        border: { display: false },
        ticks: {
          color: textColor, padding: 30, maxRotation: 0, autoSkip: false,
          font: { family: fontFamily, size: 35 },
          callback: v => minusSign(v)
        }
      },
      y: {
        type: "linear", min: yMin, max: yMax,
        afterBuildTicks: s => { s.ticks = yTicks.map(v => ({ value: v })); },
        afterFit: s => { s.width = 197; },
        grid: { color: "#cccccc", lineWidth: 3, drawTicks: false },
        border: { display: false },
        ticks: {
          color: textColor, padding: 33, autoSkip: false,
          font: { family: fontFamily, size: 35 },
          callback: v => minusSign(Number(v).toFixed(1))
        }
      }
    }
  },
  plugins: [framePlugin, textPlugin]
});
</script>
</body>
</html>
